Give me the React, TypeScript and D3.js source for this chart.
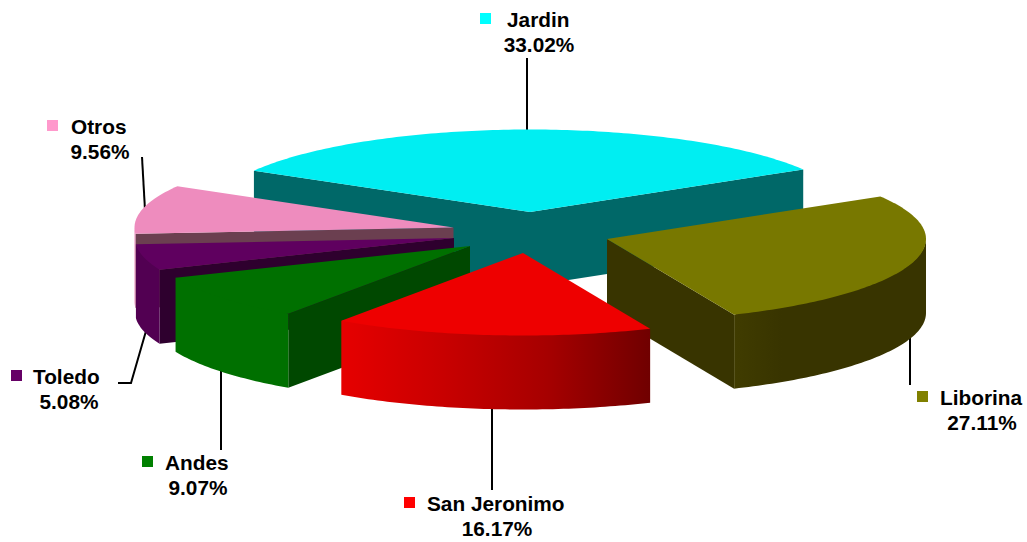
import React from "react";
import * as d3 from "d3";

const names = ["Jardin", "Liborina", "San Jeronimo", "Andes", "Toledo", "Otros"];
const shares = [33.02, 27.11, 16.17, 9.07, 5.08, 9.56];
const legendColors = ["#00FFFF", "#808000", "#FF0000", "#008000", "#660066", "#FF99CC"];
const topColors = ["#00EEF2", "#787800", "#EE0000", "#007000", "#5F005F", "#EE8CBE"];
const cutColors = ["#006868", "#383400", "#700000", "#004800", "#2E002E", "#6B3F50"];
const wallStops: string[][] = [
  ["#006868", "#006868"],
  ["#403C00", "#383400", "#383400", "#383400", "#383400"],
  ["#E60000", "#C80000", "#A60000", "#700000"],
  ["#007000", "#007000"],
  ["#520052", "#520052"],
  ["#EE8CBE", "#EE8CBE"],
];

// Layout only: where each exploded slice's apex sits, and where its label goes.
const apexX = [530, 607, 523, 470, 454, 453.5];
const apexY = [212, 239, 253, 246, 238, 227.5];
const drawOrder = [0, 5, 4, 3, 1, 2];
const nameX = [507, 940, 427, 165, 33, 71];
const nameY = [27, 405, 511, 470, 384, 134];
const pctX = [539, 982, 497, 198, 69, 100];
const swatchX = [480, 917, 404, 142, 11, 47];
const swatchY = [13, 391, 497, 456, 370, 120];
const leaders: [number, number][][] = [
  [[527, 58], [527, 135]],
  [[910, 385], [910, 330]],
  [[492, 490], [492, 400]],
  [[221, 450], [221, 365]],
  [[118, 383], [131, 383], [146, 331]],
  [[142, 157], [145, 210]],
];

const RX = 319;
const RY = 82.5;
const DEPTH = 74;
const TAU = Math.PI * 2;
const ROTATE = (-0.5 * Math.PI) / 180;

const start = -(shares[0] / 100) * Math.PI + ROTATE;
const arcs = d3.pie<number>().sort(null).startAngle(start).endAngle(start + TAU)(shares);

const line = d3.line<[number, number]>().x((p) => p[0]).y((p) => p[1]);

function rim(i: number, a: number, dy = 0): [number, number] {
  return [apexX[i] + RX * Math.sin(a), apexY[i] - RY * Math.cos(a) + dy];
}
function sample(a0: number, a1: number) {
  const n = Math.max(2, Math.ceil(Math.abs(a1 - a0) * 60));
  return d3.range(n + 1).map((k) => a0 + ((a1 - a0) * k) / n);
}

function Slice({ i }: { i: number }) {
  const { startAngle: a0, endAngle: a1 } = arcs[i];
  const apex: [number, number] = [apexX[i], apexY[i]];
  const apexLow: [number, number] = [apexX[i], apexY[i] + DEPTH];
  const top = [apex, ...sample(a0, a1).map((a) => rim(i, a))];
  const cut = (a: number) => [apex, rim(i, a), rim(i, a, DEPTH), apexLow];

  // The wall shows only on the front half of the ellipse.
  const w0 = Math.max(a0, Math.PI / 2);
  const w1 = Math.min(a1, (3 * Math.PI) / 2);
  const hasWall = w1 > w0;
  const upper = hasWall ? sample(w0, w1) : [];
  const wall = hasWall
    ? [
        // Tuck the wall's top edge under the top face, except at its two ends.
        ...upper.map((a, k) => rim(i, a, k === 0 || k === upper.length - 1 ? 0 : -1)),
        ...sample(w1, w0).map((a) => rim(i, a, DEPTH)),
      ]
    : [];
  const gx = d3.extent(wall.map((p) => p[0])) as [number, number];
  const id = `wall-${i}`;

  return (
    <g>
      {hasWall && (
        <linearGradient id={id} gradientUnits="userSpaceOnUse" x1={gx[0]} x2={gx[1]} y1={0} y2={0}>
          {wallStops[i].map((c, k, all) => (
            <stop key={k} offset={k / (all.length - 1)} stopColor={c} />
          ))}
        </linearGradient>
      )}
      {Math.sin(a0) < 0 && <path d={line(cut(a0) as [number, number][])!} fill={cutColors[i]} />}
      {Math.sin(a1) > 0 && <path d={line(cut(a1) as [number, number][])!} fill={cutColors[i]} />}
      {hasWall && <path d={line(wall as [number, number][]) + "Z"} fill={`url(#${id})`} />}
      <path d={line(top as [number, number][]) + "Z"} fill={topColors[i]} />
    </g>
  );
}

export default function App() {
  const font = { fontFamily: "'Liberation Sans', Arial, sans-serif", fontWeight: 700, fontSize: 20.8, fill: "#000" };
  return (
    <svg width={1027} height={542} style={{ position: "absolute", left: 0, top: 0, background: "#fff" }}>
      {leaders.map((pts, i) => (
        <path key={i} d={line(pts)!} fill="none" stroke="#000" strokeWidth={2} />
      ))}
      {drawOrder.map((i) => (
        <Slice key={i} i={i} />
      ))}
      {names.map((n, i) => (
        <g key={n}>
          <rect x={swatchX[i]} y={swatchY[i]} width={11} height={11} fill={legendColors[i]} />
          <text x={nameX[i]} y={nameY[i]} {...font}>{n}</text>
          <text x={pctX[i]} y={nameY[i] + 25} textAnchor="middle" {...font}>{shares[i].toFixed(2)}%</text>
        </g>
      ))}
    </svg>
  );
}
